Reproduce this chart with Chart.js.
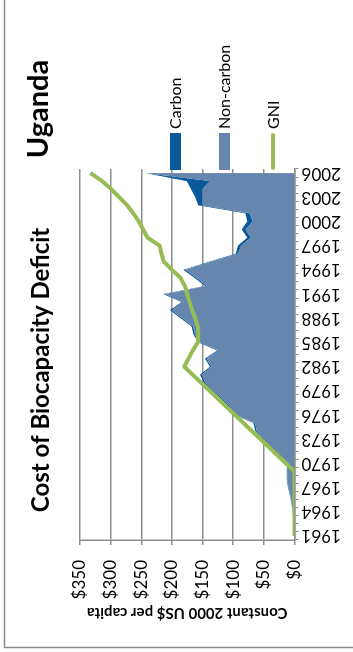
<!DOCTYPE html>
<html>
<head>
<meta charset="utf-8">
<script src="https://cdn.jsdelivr.net/npm/chart.js@4.4.1/dist/chart.umd.min.js"></script>
<style>
  html, body { margin: 0; padding: 0; background: #fff; overflow: hidden; width: 353px; height: 652px; }
  /* the chart is laid out landscape and turned a quarter turn counter-clockwise */
  #frame { position: absolute; left: 0; top: 0; width: 652px; height: 353px;
           transform-origin: 0 0; transform: rotate(-90deg) translate(-652px, 0); }
  canvas { display: block; }
</style>
</head>
<body>
<div id="frame"><canvas id="chart" width="652" height="353"></canvas></div>
<script>
const chartTitle = 'Cost of Biocapacity Deficit';
const countryName = 'Uganda';
const valueAxisTitle = 'Constant 2000 US$ per capita';

const years = ['1961','1962','1963','1964','1965','1966','1967','1968','1969','1970',
               '1971','1972','1973','1974','1975','1976','1977','1978','1979','1980',
               '1981','1982','1983','1984','1985','1986','1987','1988','1989','1990',
               '1991','1992','1993','1994','1995','1996','1997','1998','1999','2000',
               '2001','2002','2003','2004','2005','2006'];

// deficit cost, US$ per capita
const nonCarbon = [0.7, 1.2, 1.6, 2.5, 4.5, 6.9, 9.8, 11.7, 11.5, 10.5,
                   24, 40, 50, 61.5, 64.5, 94.5, 104.5, 117.5, 131.5, 145.5,
                   151.5, 135.5, 143.5, 123.5, 154.5, 162.5, 165.5, 183, 200, 181,
                   211, 143, 160, 178, 136, 92, 87, 71, 80, 68,
                   73, 150, 150, 150, 138, 244];
const carbon    = [0.3, 0.3, 0.4, 0.5, 0.5, 0.6, 0.7, 0.8, 1, 1.5,
                   2, 2, 2, 2.5, 2.5, 2.5, 2.5, 2.5, 2.5, 2.5,
                   2.5, 2.5, 2.5, 2.5, 2.5, 2.5, 2.5, 3, 3, 3,
                   3, 3, 3, 3, 3, 4, 5, 6, 6, 9,
                   7, 7, 12, 19, 38, 0];
// GNI per capita; no values reported for 1970-1981
const gni       = [0, 0, 0, 0, 0, 0, 0, 0, 0, null,
                   null, null, null, null, null, null, null, null, null, null,
                   null, 180, 173, 166, 158, 157, 158, 162, 167, 171,
                   175, 179, 186, 200, 213, 217, 220, 240, 247, 254,
                   263, 273, 286, 299, 314, 333];

const valueTicks = [0, 50, 100, 150, 200, 250, 300, 350];
const labelEvery = 3;

const colors = { carbon: '#08589c', nonCarbon: '#6686ad', gni: '#95bd54', grid: '#8e8e8e' };
const FONT = 'Lato';

const decor = {
  id: 'decor',
  afterDraw(chart) {
    const ctx = chart.ctx;
    ctx.save();
    // outer frame
    ctx.strokeStyle = '#8a8a8a';
    ctx.lineWidth = 1.5;
    ctx.strokeRect(4.5, 4.5, 900, 700);

    // headings
    ctx.fillStyle = '#000';
    ctx.textAlign = 'center';
    ctx.textBaseline = 'alphabetic';
    ctx.font = 'bold 24px ' + FONT;
    ctx.fillText(chartTitle, 282, 48.5);
    ctx.font = 'bold 29px ' + FONT;
    ctx.fillText(countryName, 543, 47.5);

    // legend column beside the plot
    const items = [
      { ds: chart.data.datasets[2], kind: 'box', y: 175.5 },
      { ds: chart.data.datasets[1], kind: 'box', y: 224.5 },
      { ds: chart.data.datasets[0], kind: 'line', y: 273 }
    ];
    const x0 = chart.chartArea.right - 1;
    ctx.font = '16px ' + FONT;
    ctx.textAlign = 'left';
    ctx.textBaseline = 'middle';
    items.forEach(it => {
      if (it.kind === 'box') {
        ctx.fillStyle = it.ds.backgroundColor;
        ctx.fillRect(x0, it.y - 5.5, 37, 11);
      } else {
        ctx.strokeStyle = it.ds.borderColor;
        ctx.lineWidth = 4;
        ctx.lineCap = 'round';
        ctx.beginPath();
        ctx.moveTo(x0 + 2, it.y);
        ctx.lineTo(x0 + 35, it.y);
        ctx.stroke();
      }
      ctx.fillStyle = '#000';
      ctx.fillText(it.ds.label, x0 + 41, it.y + 0.5);
    });
    ctx.restore();
  }
};

new Chart(document.getElementById('chart'), {
  type: 'line',
  data: {
    labels: years,
    datasets: [
      { label: 'GNI', data: gni, stack: 'gni', borderColor: colors.gni, backgroundColor: colors.gni,
        borderWidth: 4, pointRadius: 0, fill: false, spanGaps: true, tension: 0,
        borderJoinStyle: 'round', borderCapStyle: 'butt' },
      { label: 'Non-carbon', data: nonCarbon, stack: 'deficit', borderColor: 'rgba(0,0,0,0)',
        backgroundColor: colors.nonCarbon, borderWidth: 0, pointRadius: 0, fill: 'origin', tension: 0 },
      { label: 'Carbon', data: carbon, stack: 'deficit', borderColor: 'rgba(0,0,0,0)',
        backgroundColor: colors.carbon, borderWidth: 0, pointRadius: 0, fill: '-1', tension: 0 }
    ]
  },
  options: {
    responsive: false,
    animation: false,
    layout: { padding: { left: 4, top: 80, right: 169, bottom: 0 } },
    plugins: { legend: { display: false }, title: { display: false }, tooltip: { enabled: false } },
    scales: {
      x: {
        offset: true,
        grid: { offset: true, drawOnChartArea: false, drawTicks: true, tickLength: 4, color: colors.grid, lineWidth: 1 },
        border: { display: true, color: colors.grid, width: 1.5 },
        ticks: {
          autoSkip: false, minRotation: 90, maxRotation: 90, padding: 3,
          color: '#000', font: { family: FONT, size: 17 },
          callback: (v, i) => (i % labelEvery === 0 ? years[i] : '')
        },
        afterFit: s => { s.height = 58.5; }
      },
      y: {
        stacked: true,
        min: 0, max: 350,
        afterBuildTicks: s => { s.ticks = valueTicks.map(v => ({ value: v })); },
        grid: { color: colors.grid, lineWidth: 1.5, drawTicks: true, tickLength: 5 },
        border: { display: true, color: colors.grid, width: 1.5 },
        ticks: { padding: 15, color: '#000', font: { family: FONT, size: 17 }, callback: v => '$' + v },
        title: { display: true, text: valueAxisTitle, color: '#000',
                 font: { family: FONT, size: 15, weight: 'bold' }, padding: { top: 26, bottom: 0 } },
        afterFit: s => { s.width = 108; }
      }
    }
  },
  plugins: [decor]
});
</script>
</body>
</html>
